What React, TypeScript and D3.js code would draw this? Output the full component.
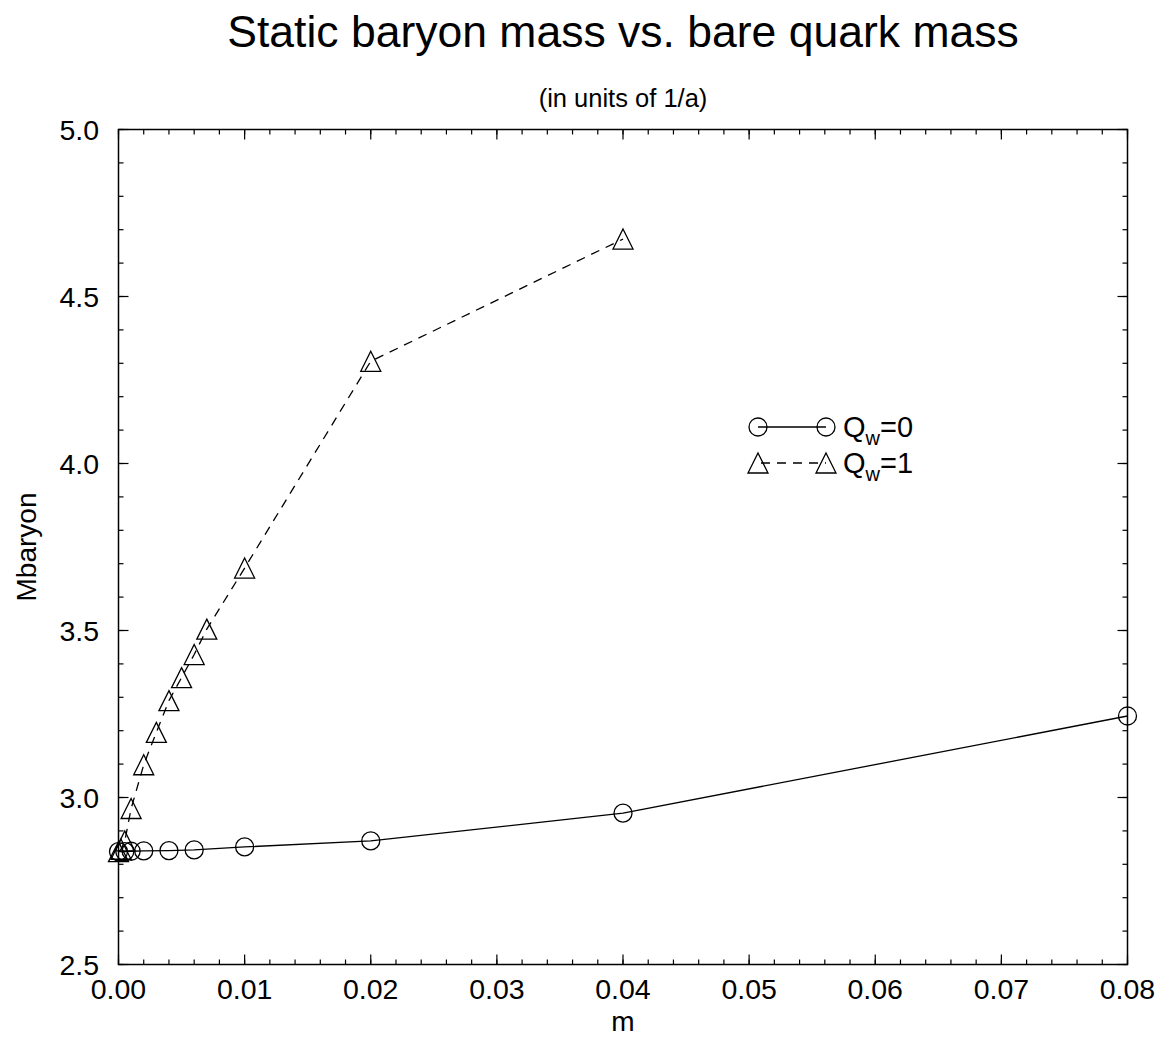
import React from "react";
import * as d3 from "d3";

const mQ0 = [0, 0.0005, 0.001, 0.002, 0.004, 0.006, 0.01, 0.02, 0.04, 0.08];
const massQ0 = [2.838, 2.838, 2.839, 2.84, 2.841, 2.843, 2.852, 2.87, 2.953, 3.244];

const mQ1 = [0, 0.0002, 0.0005, 0.001, 0.002, 0.003, 0.004, 0.005, 0.006, 0.007, 0.01, 0.02, 0.04];
const massQ1 = [2.838, 2.845, 2.87, 2.967, 3.098, 3.195, 3.29, 3.359, 3.428, 3.504, 3.687, 4.306, 4.672];

const xTicks = [0, 0.01, 0.02, 0.03, 0.04, 0.05, 0.06, 0.07, 0.08];
const yTicks = [2.5, 3.0, 3.5, 4.0, 4.5, 5.0];

const W = 1162;
const H = 1042;
const L = 118.5;
const R = 1127.5;
const T = 129.5;
const B = 964.5;
const FONT = "'Liberation Sans', Arial, Helvetica, sans-serif";

export default function App() {
  const x = d3.scaleLinear().domain([0, 0.08]).range([L, R]);
  const y = d3.scaleLinear().domain([2.5, 5.0]).range([B, T]);

  const xMinor = d3.range(0, 0.0801, 0.002);
  const yMinor = d3.range(2.5, 5.001, 0.1);

  const line = d3
    .line<[number, number]>()
    .x((d) => x(d[0]))
    .y((d) => y(d[1]));

  const q0: [number, number][] = mQ0.map((m, i) => [m, massQ0[i]]);
  const q1: [number, number][] = mQ1.map((m, i) => [m, massQ1[i]]);

  const tri = (cx: number, cy: number) =>
    `M${cx},${cy - 10}L${cx + 10},${cy + 10}L${cx - 10},${cy + 10}Z`;

  const sw = 1.3;

  return (
    <svg
      width={W}
      height={H}
      style={{ position: "absolute", left: 0, top: 0, background: "#fff" }}
      fontFamily={FONT}
    >
      <rect x={0} y={0} width={W} height={H} fill="#fff" />
      {/* title */}
      <text x={(L + R) / 2} y={47} fontSize={44.5} textAnchor="middle" fill="#000">
        Static baryon mass vs. bare quark mass
      </text>
      <text x={(L + R) / 2} y={107} fontSize={25.5} textAnchor="middle" fill="#000">
        (in units of 1/a)
      </text>

      {/* frame */}
      <rect x={L} y={T} width={R - L} height={B - T} fill="none" stroke="#000" strokeWidth={1.5} />

      {/* minor ticks */}
      {xMinor.map((v, i) => (
        <g key={"xm" + i}>
          <line x1={x(v)} x2={x(v)} y1={B} y2={B - 5} stroke="#000" strokeWidth={1.2} />
          <line x1={x(v)} x2={x(v)} y1={T} y2={T + 5} stroke="#000" strokeWidth={1.2} />
        </g>
      ))}
      {yMinor.map((v, i) => (
        <g key={"ym" + i}>
          <line x1={L} x2={L + 5} y1={y(v)} y2={y(v)} stroke="#000" strokeWidth={1.2} />
          <line x1={R} x2={R - 5} y1={y(v)} y2={y(v)} stroke="#000" strokeWidth={1.2} />
        </g>
      ))}
      {/* major ticks + labels */}
      {xTicks.map((v, i) => (
        <g key={"xt" + i}>
          <line x1={x(v)} x2={x(v)} y1={B} y2={B - 10} stroke="#000" strokeWidth={1.2} />
          <line x1={x(v)} x2={x(v)} y1={T} y2={T + 10} stroke="#000" strokeWidth={1.2} />
          <text x={x(v)} y={998.5} fontSize={28.5} textAnchor="middle" fill="#000">
            {d3.format(".2f")(v)}
          </text>
        </g>
      ))}
      {yTicks.map((v, i) => (
        <g key={"yt" + i}>
          <line x1={L} x2={L + 10} y1={y(v)} y2={y(v)} stroke="#000" strokeWidth={1.2} />
          <line x1={R} x2={R - 10} y1={y(v)} y2={y(v)} stroke="#000" strokeWidth={1.2} />
          <text x={99} y={y(v) + 10} fontSize={28.5} textAnchor="end" fill="#000">
            {d3.format(".1f")(v)}
          </text>
        </g>
      ))}

      {/* axis labels */}
      <text x={(L + R) / 2} y={1031} fontSize={28} textAnchor="middle" fill="#000">
        m
      </text>
      <text
        transform={`translate(36,${(T + B) / 2}) rotate(-90)`}
        fontSize={28}
        textAnchor="middle"
        fill="#000"
      >
        Mbaryon
      </text>

      {/* series */}
      <path d={line(q0) || ""} fill="none" stroke="#000" strokeWidth={sw} />
      <path d={line(q1) || ""} fill="none" stroke="#000" strokeWidth={sw} strokeDasharray="9,7" />
      {q0.map((d, i) => (
        <circle key={"c" + i} cx={x(d[0])} cy={y(d[1])} r={9} fill="none" stroke="#000" strokeWidth={sw} />
      ))}
      {q1.map((d, i) => (
        <path key={"t" + i} d={tri(x(d[0]), y(d[1]))} fill="none" stroke="#000" strokeWidth={sw} />
      ))}

      {/* legend */}
      <line x1={758} x2={826} y1={427} y2={427} stroke="#000" strokeWidth={sw} />
      <circle cx={758} cy={427} r={9} fill="none" stroke="#000" strokeWidth={sw} />
      <circle cx={826} cy={427} r={9} fill="none" stroke="#000" strokeWidth={sw} />
      <text x={843} y={437} fontSize={29} fill="#000">
        Q<tspan fontSize={20} dy={8}>w</tspan>
        <tspan dy={-8}>=0</tspan>
      </text>
      <line x1={758} x2={826} y1={463} y2={463} stroke="#000" strokeWidth={sw} strokeDasharray="9,7" strokeDashoffset={-3} />
      <path d={tri(758, 463)} fill="none" stroke="#000" strokeWidth={sw} />
      <path d={tri(826, 463)} fill="none" stroke="#000" strokeWidth={sw} />
      <text x={843} y={473} fontSize={29} fill="#000">
        Q<tspan fontSize={20} dy={8}>w</tspan>
        <tspan dy={-8}>=1</tspan>
      </text>
    </svg>
  );
}
